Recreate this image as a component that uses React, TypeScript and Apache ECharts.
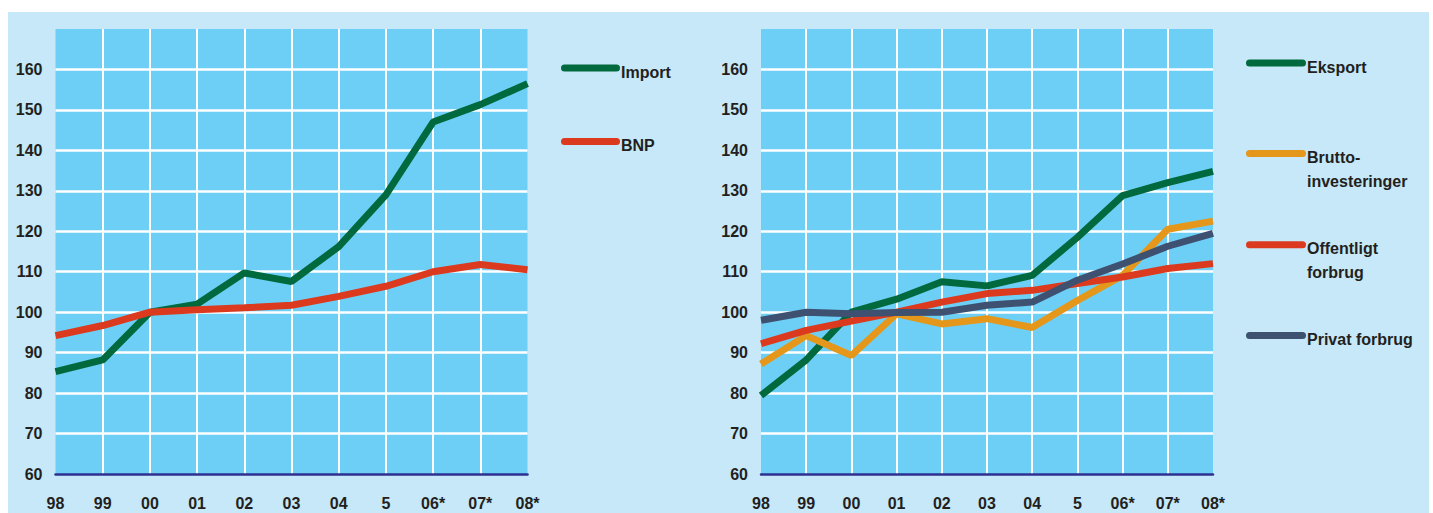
import React, { useEffect, useRef } from "react";
import * as echarts from "echarts";

const years = ["98", "99", "00", "01", "02", "03", "04", "5", "06*", "07*", "08*"];
const importValues = [85.3, 88.2, 100, 102, 109.7, 107.6, 116.2, 129, 147, 151.3, 156.5];
const bnpValues = [94.2, 96.7, 100, 100.6, 101.1, 101.7, 103.9, 106.4, 110, 111.8, 110.5];
const eksportValues = [79.4, 88.2, 100, 103.2, 107.5, 106.5, 109.1, 118.5, 128.8, 132, 134.8];
const bruttoValues = [87.2, 94.2, 89.3, 99.6, 97.1, 98.4, 96.2, 102.9, 109.1, 120.5, 122.5];
const offentligtValues = [92.2, 95.5, 97.8, 100, 102.5, 104.6, 105.4, 107.1, 108.7, 110.8, 112];
const privatValues = [98, 100, 99.6, 99.9, 100, 101.7, 102.5, 107.9, 111.9, 116.3, 119.5];
const yMin = 60;
const yMax = 170;
const yStep = 10;

const leftSeries = [
  { name: "Import", label: ["Import"], color: "#006a3e", values: importValues },
  { name: "BNP", label: ["BNP"], color: "#dc3a1f", values: bnpValues },
];
const rightSeries = [
  { name: "Eksport", label: ["Eksport"], color: "#006a3e", values: eksportValues },
  { name: "Bruttoinvesteringer", label: ["Brutto-", "investeringer"], color: "#e4971a", values: bruttoValues },
  { name: "Offentligt forbrug", label: ["Offentligt", "forbrug"], color: "#dc3a1f", values: offentligtValues },
  { name: "Privat forbrug", label: ["Privat forbrug"], color: "#3f5171", values: privatValues },
];

const FONT = "'Liberation Sans', Arial, sans-serif";
const TEXT_COLOR = "#231f20";

export default function App() {
  const ref = useRef<HTMLDivElement>(null);

  useEffect(() => {
    if (!ref.current) return;
    const chart = echarts.init(ref.current, undefined, { renderer: "svg" });

    const grids = [
      { left: 55.5, top: 29, width: 472, height: 445 },
      { left: 761, top: 29, width: 452, height: 445 },
    ];

    const xAxisBase = (gridIndex: number) => ({
      type: "category",
      gridIndex,
      data: years,
      boundaryGap: false,
      axisLine: { show: true, lineStyle: { color: "#2e3192", width: 2.5 } },
      axisTick: { show: false },
      axisLabel: {
        interval: 0,
        margin: 21,
        fontSize: 16,
        fontWeight: "bold",
        fontFamily: FONT,
        color: TEXT_COLOR,
      },
      splitLine: {
        show: true,
        interval: 0,
        showMinLine: false,
        showMaxLine: false,
        lineStyle: { color: "#ffffff", width: 2 },
      },
    });

    const yAxisBase = (gridIndex: number) => ({
      type: "value",
      gridIndex,
      min: yMin,
      max: yMax,
      interval: yStep,
      axisLine: { show: false },
      axisTick: { show: false },
      axisLabel: {
        margin: 13,
        fontSize: 16,
        fontWeight: "bold",
        fontFamily: FONT,
        color: TEXT_COLOR,
        formatter: (v: number) => (v >= yMax ? "" : String(v)),
      },
      splitLine: {
        show: true,
        showMinLine: false,
        showMaxLine: false,
        lineStyle: { color: "#ffffff", width: 2.5 },
      },
    });

    const makeSeries = (list: typeof leftSeries, idx: number) =>
      list.map((s) => ({
        type: "line",
        name: s.name,
        xAxisIndex: idx,
        yAxisIndex: idx,
        data: s.values,
        showSymbol: false,
        symbol: "none",
        lineStyle: { color: s.color, width: 7 },
        itemStyle: { color: s.color },
      }));

    const legendGraphic = (
      list: typeof leftSeries,
      x1: number,
      x2: number,
      ys: number[]
    ) => {
      const els: any[] = [];
      list.forEach((s, i) => {
        const y = ys[i];
        els.push({
          type: "line",
          shape: { x1: x1 + 3.5, y1: y, x2: x2 - 3.5, y2: y },
          style: { stroke: s.color, lineWidth: 7, lineCap: "round" },
        });
        els.push({
          type: "text",
          x: x2 + 1,
          y: y + 4 - 12,
          style: {
            text: s.label.join("\n"),
            fill: TEXT_COLOR,
            font: `bold 16px ${FONT}`,
            lineHeight: 24,
            verticalAlign: "top",
            align: "left",
          },
        });
      });
      return els;
    };

    chart.setOption({
      animation: false,
      backgroundColor: "#c6e8f8",
      grid: grids.map((g) => ({
        ...g,
        show: true,
        backgroundColor: "#6dcff6",
        borderWidth: 0,
        containLabel: false,
      })),
      xAxis: [xAxisBase(0), xAxisBase(1)],
      yAxis: [yAxisBase(0), yAxisBase(1)],
      series: [...makeSeries(leftSeries, 0), ...makeSeries(rightSeries, 1)],
      graphic: [
        { type: "rect", shape: { x: 0, y: 0, width: 1433, height: 12 }, style: { fill: "#ffffff" } },
        { type: "rect", shape: { x: 0, y: 0, width: 8, height: 513 }, style: { fill: "#ffffff" } },
        { type: "rect", shape: { x: 1429, y: 0, width: 4, height: 513 }, style: { fill: "#ffffff" } },
        ...legendGraphic(leftSeries, 561, 620, [68, 141.5]),
        ...legendGraphic(rightSeries, 1246, 1306, [63, 153.5, 244.7, 335.6]),
      ],
    });

    return () => chart.dispose();
  }, []);

  return (
    <div
      ref={ref}
      style={{ position: "absolute", left: 0, top: 0, width: 1433, height: 513 }}
    />
  );
}
